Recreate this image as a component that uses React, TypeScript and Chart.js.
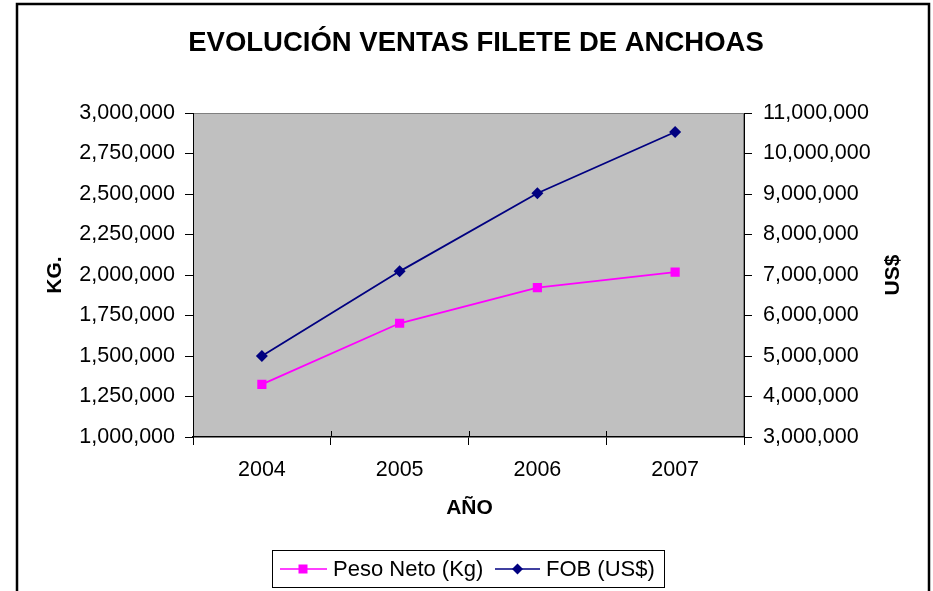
import React, { useEffect, useRef } from "react";
import { Chart, registerables } from "chart.js";

Chart.register(...registerables);

const categories = ["2004", "2005", "2006", "2007"];
const pesoNeto = [1325000, 1702000, 1922000, 2018000];
const fobUsd = [5000000, 7090000, 9020000, 10530000];
const titleText = "EVOLUCIÓN VENTAS FILETE DE ANCHOAS";
const seriesNames = ["Peso Neto (Kg)", "FOB (US$)"];
const axisTitles = { x: "AÑO", y: "KG.", y1: "US$" };

const FONT = "'Liberation Sans', Arial, sans-serif";
const W = 933;
const H = 591;

const fmt = (v: number) => Math.round(v).toLocaleString("en-US");

export default function App() {
  const ref = useRef<HTMLCanvasElement | null>(null);

  useEffect(() => {
    const canvas = ref.current;
    if (!canvas) return;

    const decor = {
      id: "decor",
      beforeDraw(chart: any) {
        const { ctx, chartArea: a } = chart;
        ctx.save();
        ctx.fillStyle = "#ffffff";
        ctx.fillRect(0, 0, W, H);
        ctx.fillStyle = "#c0c0c0";
        ctx.fillRect(a.left, a.top, a.right - a.left, a.bottom - a.top);
        ctx.strokeStyle = "#808080";
        ctx.lineWidth = 1;
        ctx.strokeRect(a.left + 0.5, a.top + 0.5, a.right - a.left - 1, a.bottom - a.top - 1);
        ctx.restore();
      },
      afterDraw(chart: any) {
        const { ctx, chartArea: a } = chart;
        ctx.save();
        // outer border
        ctx.strokeStyle = "#000000";
        ctx.lineWidth = 2.5;
        ctx.strokeRect(17, 4, 912, 700);

        // title
        ctx.fillStyle = "#000000";
        ctx.textAlign = "center";
        ctx.textBaseline = "middle";
        ctx.font = `bold 27.5px ${FONT}`;
        ctx.fillText(titleText, 476, 43);

        // axis titles
        ctx.font = `bold 21px ${FONT}`;
        ctx.fillText(axisTitles.x, (a.left + a.right) / 2 + 1, 508);
        ctx.save();
        ctx.translate(55, (a.top + a.bottom) / 2);
        ctx.rotate(-Math.PI / 2);
        ctx.fillText(axisTitles.y, 0, 0);
        ctx.restore();
        ctx.save();
        ctx.translate(893, (a.top + a.bottom) / 2);
        ctx.rotate(-Math.PI / 2);
        ctx.fillText(axisTitles.y1, 0, 0);
        ctx.restore();

        // inner part of x ticks
        ctx.strokeStyle = "#000000";
        ctx.lineWidth = 1;
        const n = categories.length;
        for (let i = 1; i < n; i++) {
          const x = Math.round(a.left + ((a.right - a.left) * i) / n) + 0.5;
          ctx.beginPath();
          ctx.moveTo(x, a.bottom - 6);
          ctx.lineTo(x, a.bottom);
          ctx.stroke();
        }

        // legend
        ctx.strokeStyle = "#000000";
        ctx.lineWidth = 1;
        ctx.strokeRect(272.5, 550.5, 392, 37);
        const ly = 569;
        ctx.lineWidth = 1.5;
        ctx.strokeStyle = "#ff00ff";
        ctx.beginPath();
        ctx.moveTo(280, ly);
        ctx.lineTo(327, ly);
        ctx.stroke();
        ctx.fillStyle = "#ff00ff";
        ctx.fillRect(298.5, ly - 4.5, 9, 9);
        ctx.strokeStyle = "#000080";
        ctx.beginPath();
        ctx.moveTo(495, ly);
        ctx.lineTo(540, ly);
        ctx.stroke();
        ctx.fillStyle = "#000080";
        ctx.beginPath();
        ctx.moveTo(517.5, ly - 5.5);
        ctx.lineTo(523, ly);
        ctx.lineTo(517.5, ly + 5.5);
        ctx.lineTo(512, ly);
        ctx.closePath();
        ctx.fill();
        ctx.fillStyle = "#000000";
        ctx.textAlign = "left";
        ctx.textBaseline = "middle";
        ctx.font = `22px ${FONT}`;
        ctx.fillText(seriesNames[0], 333, ly + 1);
        ctx.fillText(seriesNames[1], 546, ly + 1);
        ctx.restore();
      },
    };

    const chart = new Chart(canvas, {
      type: "line",
      data: {
        labels: categories,
        datasets: [
          {
            label: seriesNames[0],
            data: pesoNeto,
            yAxisID: "y",
            borderColor: "#ff00ff",
            backgroundColor: "#ff00ff",
            borderWidth: 1.8,
            pointStyle: "rect",
            pointRadius: 6.5,
            pointBorderWidth: 0,
            tension: 0,
          },
          {
            label: seriesNames[1],
            data: fobUsd,
            yAxisID: "y1",
            borderColor: "#000080",
            backgroundColor: "#000080",
            borderWidth: 1.8,
            pointStyle: "rectRot",
            pointRadius: 6,
            pointBorderWidth: 0,
            tension: 0,
          },
        ],
      },
      options: {
        responsive: false,
        animation: false,
        events: [],
        layout: { padding: { top: 113, left: 0, right: 0, bottom: 0 } },
        plugins: {
          legend: { display: false },
          title: { display: false },
          tooltip: { enabled: false },
        },
        scales: {
          x: {
            type: "category",
            offset: true,
            afterFit: (s: any) => {
              s.height = H - 437;
            },
            grid: {
              offset: true,
              drawOnChartArea: false,
              drawTicks: true,
              tickLength: 8,
              color: "#000000",
            },
            border: { display: true, color: "#000000", width: 1.5 },
            ticks: {
              color: "#000000",
              font: { family: FONT, size: 21.5 },
              padding: 12,
              maxRotation: 0,
            },
          },
          y: {
            type: "linear",
            position: "left",
            min: 1000000,
            max: 3000000,
            afterFit: (s: any) => {
              s.width = 193;
            },
            grid: {
              drawOnChartArea: false,
              drawTicks: true,
              tickLength: 8,
              color: "#000000",
            },
            border: { display: true, color: "#000000", width: 1 },
            ticks: {
              stepSize: 250000,
              color: "#000000",
              font: { family: FONT, size: 21.5 },
              padding: 10,
              callback: (v: any) => fmt(Number(v)),
            },
          },
          y1: {
            type: "linear",
            position: "right",
            min: 3000000,
            max: 11000000,
            afterFit: (s: any) => {
              s.width = W - 744;
            },
            grid: {
              drawOnChartArea: false,
              drawTicks: true,
              tickLength: 8,
              color: "#000000",
            },
            border: { display: true, color: "#000000", width: 1 },
            ticks: {
              stepSize: 1000000,
              color: "#000000",
              font: { family: FONT, size: 21.5 },
              padding: 11,
              callback: (v: any) => fmt(Number(v)),
            },
          },
        },
      },
      plugins: [decor],
    });

    return () => chart.destroy();
  }, []);

  return (
    <div style={{ position: "fixed", left: 0, top: 0, width: W, height: H, background: "#fff" }}>
      <canvas ref={ref} width={W} height={H} style={{ width: W, height: H, display: "block" }} />
    </div>
  );
}
